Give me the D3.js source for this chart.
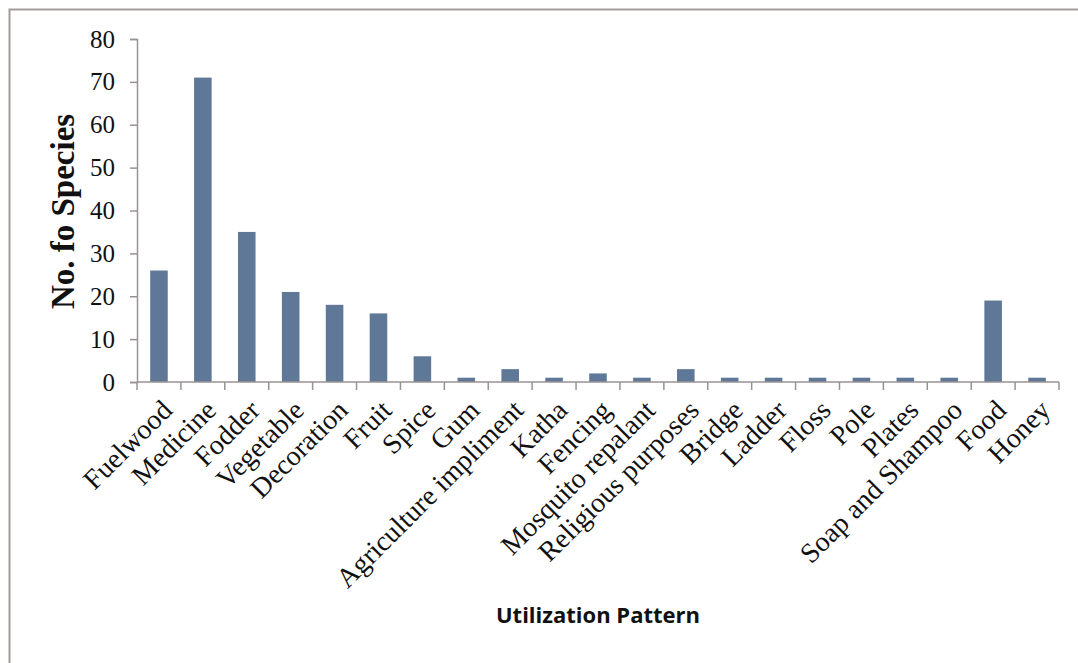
<!DOCTYPE html>
<meta charset="utf-8">
<body style="margin:0;background:#fff">
<script src="https://d3js.org/d3.v7.min.js"></script>
<script>

var categories = ["Fuelwood", "Medicine", "Fodder", "Vegetable", "Decoration", "Fruit", "Spice", "Gum",
    "Agriculture impliment", "Katha", "Fencing", "Mosquito repalant", "Religious purposes", "Bridge",
    "Ladder", "Floss", "Pole", "Plates", "Soap and Shampoo", "Food", "Honey"];
var species = [26, 71, 35, 21, 18, 16, 6, 1, 3, 1, 2, 1, 3, 1, 1, 1, 1, 1, 1, 19, 1];
var yTicks = [0, 10, 20, 30, 40, 50, 60, 70, 80];

var W = 1078, H = 663;
var margin = { top: 39, right: 19, bottom: 281, left: 137 };
var width = W - margin.left - margin.right,
    height = H - margin.top - margin.bottom;

var svg = d3.select("body").append("svg")
    .attr("width", W)
    .attr("height", H);

// outer frame
svg.append("rect")
    .attr("x", 9.5).attr("y", 9.5)
    .attr("width", W + 10).attr("height", H + 10)
    .attr("fill", "none")
    .attr("stroke", "#a39b9b")
    .attr("stroke-width", 2);

var g = svg.append("g")
    .attr("transform", "translate(" + margin.left + "," + margin.top + ")");

var x = d3.scaleBand().domain(categories).range([0, width]).paddingInner(0.6).paddingOuter(0.3);
var y = d3.scaleLinear().domain([0, 80]).range([height, 0]);

g.selectAll(".bar")
    .data(species)
  .enter().append("rect")
    .attr("class", "bar")
    .attr("x", function (d, i) { return x(categories[i]); })
    .attr("y", function (d) { return y(d); })
    .attr("width", x.bandwidth())
    .attr("height", function (d) { return height - y(d); })
    .attr("fill", "#5f7898");

// y axis
var yAxis = g.append("g")
    .call(d3.axisLeft(y).tickValues(yTicks).tickSize(7).tickPadding(15));
yAxis.select(".domain").attr("stroke", "#9a9292").attr("stroke-width", 1.5);
yAxis.selectAll(".tick line").attr("stroke", "#9a9292").attr("stroke-width", 1.5);
yAxis.selectAll("text")
    .style("font-family", "'Liberation Serif', 'Times New Roman', serif")
    .style("font-size", "25px")
    .attr("fill", "#111");

// x axis: ticks on band boundaries
var bounds = d3.range(categories.length + 1).map(function (i) { return i * width / categories.length; });
var xAxis = g.append("g").attr("transform", "translate(0," + height + ")");
xAxis.append("line")
    .attr("x1", 0).attr("x2", width)
    .attr("stroke", "#9a9292").attr("stroke-width", 1.5);
xAxis.selectAll(".xt")
    .data(bounds)
  .enter().append("line")
    .attr("x1", function (d) { return d; })
    .attr("x2", function (d) { return d; })
    .attr("y1", 0).attr("y2", 8)
    .attr("stroke", "#9a9292").attr("stroke-width", 1.5);

xAxis.selectAll(".xl")
    .data(categories)
  .enter().append("text")
    .attr("transform", function (d) {
        var cx = x(d) + x.bandwidth() / 2 + 1;
        return "translate(" + cx + ",16) rotate(-45)";
    })
    .attr("text-anchor", "end")
    .attr("dy", "0.7em")
    .style("font-family", "'Liberation Serif', 'Times New Roman', serif")
    .style("font-size", "28px")
    .attr("fill", "#111")
    .text(function (d) { return d; });

// axis titles
svg.append("text")
    .attr("transform", "translate(74," + (margin.top + height / 2 + 1) + ") rotate(-90)")
    .attr("text-anchor", "middle")
    .style("font-family", "'Liberation Serif', 'Times New Roman', serif")
    .style("font-size", "33px")
    .style("font-weight", "bold")
    .attr("fill", "#111")
    .text("No. fo Species");

svg.append("text")
    .attr("x", 598).attr("y", 623)
    .attr("text-anchor", "middle")
    .style("font-family", "'Open Sans', 'Noto Sans', sans-serif")
    .style("font-size", "22px")
    .style("font-weight", "bold")
    .attr("fill", "#111")
    .text("Utilization Pattern");

</script>
</body>
